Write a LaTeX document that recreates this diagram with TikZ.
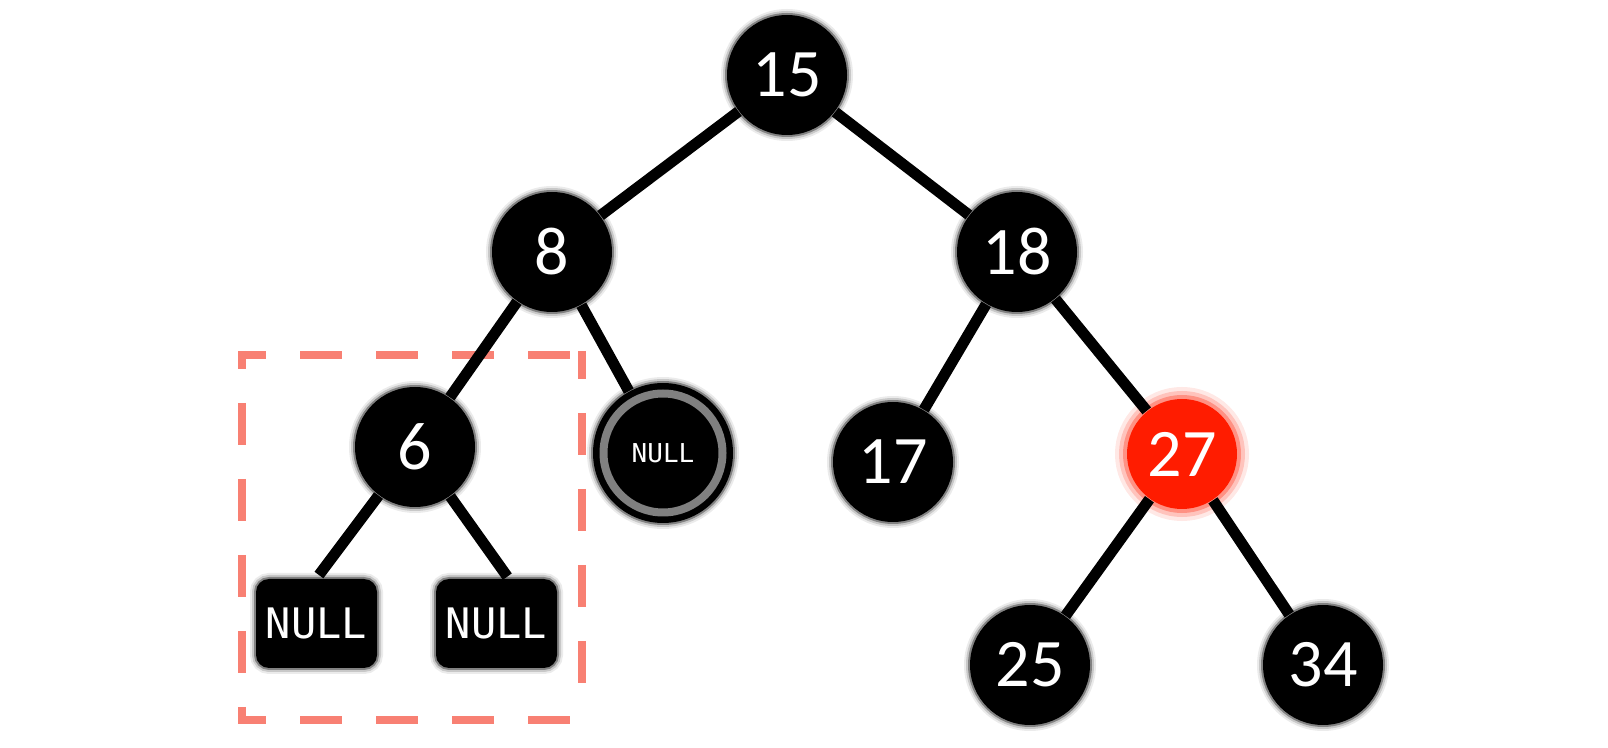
\documentclass[tikz,border=0pt]{standalone}
\usepackage{fontspec}
\setmainfont{Carlito}
\newfontfamily\leaffont{DejaVu Sans Mono}
\definecolor{nodered}{RGB}{255,28,0}
\definecolor{boxsalmon}{RGB}{248,128,115}
\definecolor{ringgray}{RGB}{128,128,128}
\tikzset{every picture/.style={line width=0.75pt}}
\tikzset{
  halo/.style={preaction={draw=black,line width=6pt,draw opacity=0.08},
               preaction={draw=black,line width=4pt,draw opacity=0.15},
               preaction={draw=black,line width=2pt,draw opacity=0.35}},
  keynode/.style={circle,fill=black,text=white,minimum size=60pt,inner sep=0pt,
                  font=\fontsize{34}{34}\selectfont,halo},
  rednode/.style={circle,fill=nodered,text=white,minimum size=55pt,inner sep=0pt,
                  font=\fontsize{34}{34}\selectfont,
                  preaction={draw=nodered,line width=12pt,draw opacity=0.1},
                  preaction={draw=nodered,line width=8pt,draw opacity=0.18},
                  preaction={draw=nodered,line width=4pt,draw opacity=0.3}},
  nullnode/.style={circle,fill=black,text=white,minimum size=70pt,inner sep=0pt,
                  font=\leaffont\fontsize{13}{13}\selectfont,halo},
  nullbox/.style={rectangle,rounded corners=6.5pt,fill=black,text=white,
                  minimum width=60.5pt,minimum height=44.5pt,inner sep=0pt,
                  font=\leaffont\fontsize{21}{21}\selectfont,halo},
  edge/.style={line width=5.5pt},
  frame/.style={color=boxsalmon,line width=4pt,dash pattern=on 21pt off 17pt,dash phase=7pt}
}
\begin{document}
\begin{tikzpicture}[x=0.5pt,y=0.5pt,yscale=-1,xscale=1]
		\useasboundingbox (0,0) rectangle (1608,748);

		%Shape: Rectangle, dashed frame round the subtree of 6, one side at a time
		\draw [frame] (238,355) -- (586,355);
		\draw [frame] (582,351) -- (582,712);
		\draw [frame] (238,720) -- (578,720);
		\draw [frame, dash phase=12pt] (242,351) -- (242,724);

		% Key nodes
		\node [keynode] (n15) at (787,75) {15};
		\node [keynode] (n8) at (552,252) {8};
		\node [keynode] (n18) at (1017,252) {18};
		\node [keynode] (n6) at (415,447) {6};
		\node [keynode] (n17) at (893,462) {17};
		\node [rednode] (n27) at (1182,454) {27};
		\node [keynode] (n25) at (1030,665) {25};
		\node [keynode] (n34) at (1323,665) {34};

		% Null leaves
		\node [nullnode] (nnull) at (663,453) {NULL};
		\draw [color=ringgray, line width=4pt] (nnull.center) circle (29.75pt);
		\node [nullbox] (nleft) at (316.5,623.5) {NULL};
		\node [nullbox] (nright) at (496.5,623.5) {NULL};

		% Edges
		\draw [edge] (n15) -- (n8);
		\draw [edge] (n15) -- (n18);
		\draw [edge] (n8) -- (n6);
		\draw [edge] (n8) -- (nnull);
		\draw [edge] (n18) -- (n17);
		\draw [edge] (n18) -- (n27);
		\draw [edge] (n27) -- (n25);
		\draw [edge] (n27) -- (n34);
		\draw [edge, shorten >=2pt] (n6) -- (nleft.north);
		\draw [edge, shorten >=1pt] (n6) -- ([xshift=6pt]nright.north);

\end{tikzpicture}
\end{document}
